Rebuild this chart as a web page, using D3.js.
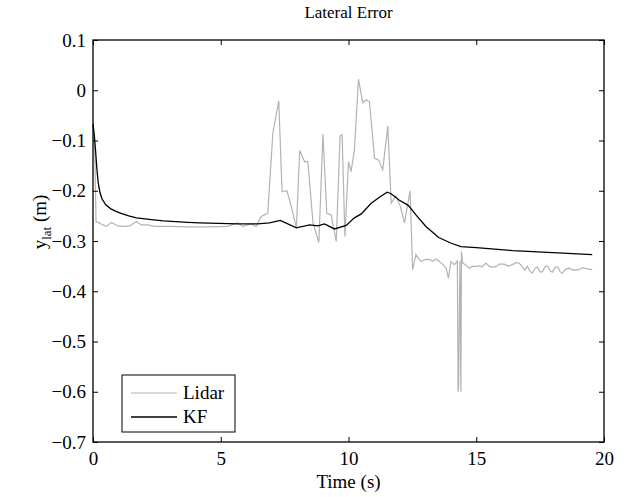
<!DOCTYPE html>
<html>
<head>
<meta charset="utf-8">
<script src="https://cdn.jsdelivr.net/npm/d3@7"></script>
<style>
  html, body { margin: 0; padding: 0; background: #fff; }
  svg { display: block; font-family: "Liberation Serif", "Times New Roman", serif; }
</style>
</head>
<body>
<svg id="chart" width="634" height="497"></svg>
<script>
// ---- data ----
const lidarT = [0, 0.06, 0.12, 0.2, 0.39, 0.52, 0.72, 0.98, 1.24, 1.45, 1.69, 1.89, 2.15, 2.41, 3.0, 3.71, 4.5, 5.27, 5.66, 5.86, 6.18, 6.38, 6.58, 6.84, 7.04, 7.27, 7.40, 7.59, 7.76, 7.96, 8.09, 8.28, 8.41, 8.61, 8.84, 9.0, 9.15, 9.32, 9.52, 9.67, 9.75, 9.86, 10.0, 10.1, 10.23, 10.39, 10.56, 10.69, 10.82, 11.02, 11.18, 11.34, 11.54, 11.67, 11.86, 12.03, 12.19, 12.41, 12.51, 12.64, 12.74, 12.84, 12.95, 13.05, 13.16, 13.3, 13.42, 13.55, 13.68, 13.82, 13.91, 14.01, 14.14, 14.26, 14.29, 14.31, 14.36, 14.40, 14.42, 14.47, 14.6, 14.73, 14.85, 14.99, 15.1, 15.22, 15.38, 15.5, 15.6, 15.77, 15.9, 16.1, 16.25, 16.42, 16.55, 16.68, 16.8, 16.9, 17.0, 17.1, 17.2, 17.3, 17.4, 17.5, 17.59, 17.7, 17.8, 17.9, 17.98, 18.1, 18.2, 18.28, 18.37, 18.5, 18.63, 18.8, 19.02, 19.15, 19.3, 19.42, 19.54];
const lidarY = [-0.065, -0.09, -0.262, -0.263, -0.268, -0.271, -0.263, -0.270, -0.271, -0.270, -0.261, -0.268, -0.268, -0.271, -0.271, -0.272, -0.272, -0.271, -0.264, -0.271, -0.266, -0.271, -0.251, -0.245, -0.085, -0.021, -0.202, -0.200, -0.231, -0.274, -0.120, -0.142, -0.142, -0.264, -0.303, -0.087, -0.245, -0.248, -0.301, -0.091, -0.089, -0.291, -0.142, -0.162, -0.119, 0.022, -0.025, -0.019, -0.023, -0.135, -0.139, -0.158, -0.071, -0.225, -0.210, -0.231, -0.264, -0.200, -0.357, -0.327, -0.335, -0.341, -0.338, -0.336, -0.337, -0.340, -0.336, -0.341, -0.346, -0.354, -0.374, -0.341, -0.347, -0.340, -0.600, -0.590, -0.340, -0.600, -0.321, -0.344, -0.348, -0.354, -0.350, -0.351, -0.349, -0.352, -0.344, -0.350, -0.352, -0.351, -0.346, -0.346, -0.350, -0.347, -0.343, -0.344, -0.351, -0.358, -0.350, -0.360, -0.364, -0.354, -0.352, -0.362, -0.361, -0.351, -0.350, -0.360, -0.362, -0.352, -0.352, -0.361, -0.364, -0.356, -0.354, -0.358, -0.357, -0.353, -0.355, -0.356, -0.357];

const kfT = [0, 0.05, 0.1, 0.15, 0.2, 0.27, 0.35, 0.5, 0.7, 0.9, 1.1, 1.4, 1.7, 2.2, 2.75, 3.71, 4.18, 5.66, 6.45, 6.91, 7.33, 7.96, 8.48, 8.8, 9.06, 9.45, 9.91, 10.23, 10.5, 10.89, 11.21, 11.51, 11.67, 11.99, 12.34, 12.64, 13.03, 13.53, 14.0, 14.4, 15.0, 16.42, 18.0, 19.54];
const kfY = [-0.068, -0.09, -0.12, -0.155, -0.183, -0.203, -0.216, -0.228, -0.236, -0.241, -0.245, -0.250, -0.254, -0.257, -0.260, -0.263, -0.264, -0.266, -0.266, -0.264, -0.259, -0.274, -0.268, -0.270, -0.266, -0.276, -0.269, -0.254, -0.246, -0.225, -0.213, -0.203, -0.206, -0.219, -0.229, -0.248, -0.271, -0.293, -0.304, -0.311, -0.313, -0.319, -0.323, -0.327];

const xTicks = [0, 5, 10, 15, 20];
const yTicks = [0.1, 0, -0.1, -0.2, -0.3, -0.4, -0.5, -0.6, -0.7];
const seriesNames = ["Lidar", "KF"];
const seriesColors = ["#b3b3b3", "#000000"];

// ---- layout ----
const FONT = "Liberation Serif";
const svg = d3.select("#chart");
const L = 93, R = 604, T = 40, B = 442;
const x = d3.scaleLinear().domain([0, 20]).range([L, R]);
const y = d3.scaleLinear().domain([-0.7, 0.1]).range([B, T]);
const fs = 19;
const yFmt = d => d === 0 ? "0" : d3.format(".1f")(d);

// plot lines
const line = d3.line().x(d => x(d[0])).y(d => y(d[1]));
const lidar = lidarT.map((t, i) => [t, lidarY[i]]);
const kf = kfT.map((t, i) => [t, kfY[i]]);
svg.append("path").datum(lidar).attr("d", line)
  .attr("fill", "none").attr("stroke", seriesColors[0]).attr("stroke-width", 1.2);
svg.append("path").datum(kf).attr("d", line)
  .attr("fill", "none").attr("stroke", seriesColors[1]).attr("stroke-width", 1.3);

// axes (inward ticks on all four sides)
function styleAxis(g) {
  g.attr("font-family", FONT);
  g.selectAll("text").attr("font-size", fs).attr("font-family", FONT).attr("fill", "#000");
  g.selectAll("line").attr("stroke", "#000");
  g.select(".domain").remove();
}
svg.append("g").attr("transform", `translate(0,${B})`)
  .call(d3.axisBottom(x).tickValues(xTicks).tickFormat(d3.format("d")).tickSizeInner(-5).tickSizeOuter(0).tickPadding(10))
  .call(styleAxis);
svg.append("g").attr("transform", `translate(0,${T})`)
  .call(d3.axisTop(x).tickValues(xTicks).tickFormat("").tickSizeInner(-5).tickSizeOuter(0))
  .call(styleAxis);
svg.append("g").attr("transform", `translate(${L},0)`)
  .call(d3.axisLeft(y).tickValues(yTicks).tickFormat(yFmt).tickSizeInner(-5).tickSizeOuter(0).tickPadding(7))
  .call(styleAxis);
svg.append("g").attr("transform", `translate(${R},0)`)
  .call(d3.axisRight(y).tickValues(yTicks).tickFormat("").tickSizeInner(-5).tickSizeOuter(0))
  .call(styleAxis);

// box
svg.append("rect").attr("x", L).attr("y", T).attr("width", R - L).attr("height", B - T)
  .attr("fill", "none").attr("stroke", "#000").attr("stroke-width", 1.3);

// title & labels
svg.append("text").attr("x", (L + R) / 2).attr("y", 18).attr("text-anchor", "middle")
  .attr("font-family", FONT).attr("font-size", 17).text("Lateral Error");
svg.append("text").attr("x", (L + R) / 2).attr("y", 488).attr("text-anchor", "middle")
  .attr("font-family", FONT).attr("font-size", fs).text("Time (s)");
const yl = svg.append("text").attr("transform", `translate(46,222) rotate(-90)`)
  .attr("text-anchor", "middle").attr("font-family", FONT).attr("font-size", fs);
yl.append("tspan").text("y");
yl.append("tspan").attr("font-size", 13).attr("dy", 5).text("lat");
yl.append("tspan").attr("dy", -5).text(" (m)");

// legend
const lg = svg.append("g");
lg.append("rect").attr("x", 122).attr("y", 375).attr("width", 113).attr("height", 57)
  .attr("fill", "#fff").attr("stroke", "#000").attr("stroke-width", 1);
seriesNames.forEach((n, i) => {
  const yy = 393 + i * 24;
  lg.append("line").attr("x1", 131).attr("x2", 177).attr("y1", yy).attr("y2", yy)
    .attr("stroke", seriesColors[i]).attr("stroke-width", i ? 1.3 : 1.2);
  lg.append("text").attr("x", 183).attr("y", yy + 6).attr("font-family", FONT).attr("font-size", fs).text(n);
});
</script>
</body>
</html>
